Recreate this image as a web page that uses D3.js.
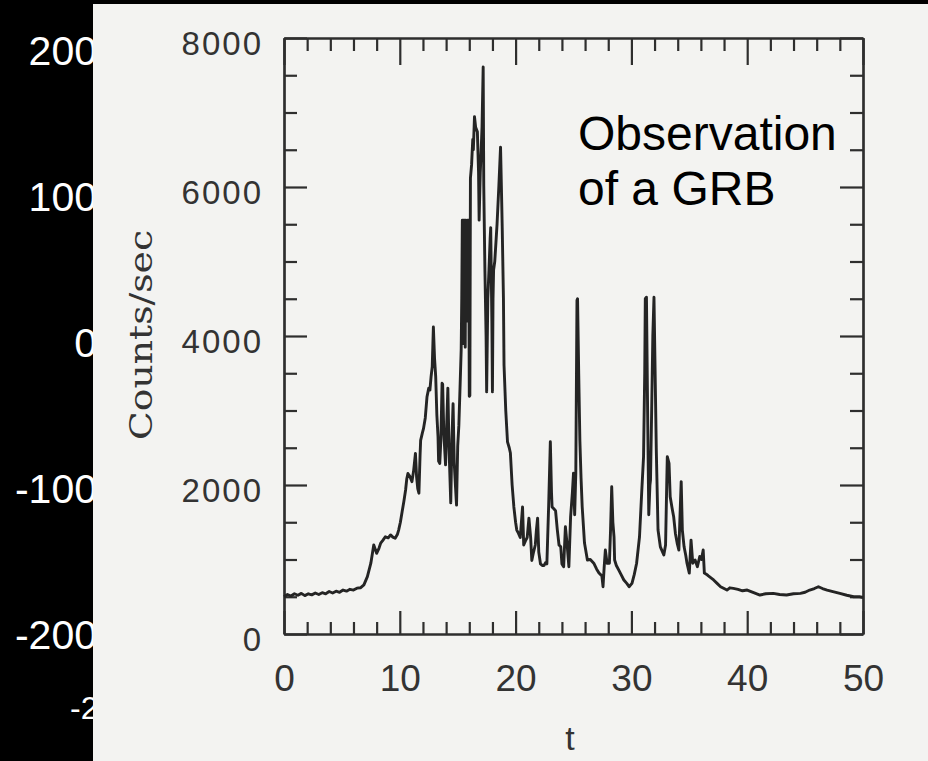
<!DOCTYPE html>
<html><head><meta charset="utf-8">
<script src="https://cdn.jsdelivr.net/npm/d3@7"></script>
<style>html,body{margin:0;padding:0;background:#000;}svg{display:block}</style>
</head><body><svg id="c" width="928" height="761"></svg>
<script>
// ---- data ----
const times = [0,0.3,0.6,0.9,1.2,1.5,1.8,2.1,2.4,2.7,3.0,3.3,3.6,3.9,4.2,4.5,4.8,5.1,5.4,5.7,6.0,6.3,6.6,6.9,7.2,7.5,7.75,8.0,8.2,8.35,8.55,8.75,9.0,9.2,9.4,9.6,9.8,9.9,10.05,10.2,10.35,10.5,10.6,10.7,10.85,11.05,11.2,11.35,11.45,11.55,11.65,11.75,11.8,11.95,12.05,12.2,12.35,12.5,12.6,12.7,12.8,12.9,13.0,13.1,13.2,13.3,13.35,13.45,13.55,13.65,13.7,13.8,13.95,14.05,14.15,14.25,14.4,14.5,14.6,14.7,14.8,14.9,15.0,15.1,15.2,15.3,15.35,15.4,15.45,15.5,15.55,15.6,15.65,15.7,15.8,15.85,15.9,15.95,16.0,16.05,16.1,16.2,16.3,16.35,16.45,16.55,16.7,16.8,16.85,16.95,17.0,17.1,17.2,17.25,17.35,17.45,17.5,17.6,17.7,17.8,17.85,17.95,18.0,18.05,18.1,18.2,18.3,18.4,18.55,18.7,18.8,18.85,18.95,19.0,19.15,19.3,19.45,19.55,19.7,19.85,20.0,20.1,20.25,20.4,20.5,20.6,20.7,20.85,21.0,21.15,21.3,21.4,21.55,21.7,21.8,21.9,22.0,22.15,22.3,22.45,22.6,22.7,22.85,23.0,23.1,23.15,23.3,23.45,23.6,23.75,23.9,24.0,24.15,24.3,24.45,24.6,24.75,24.9,25.0,25.1,25.2,25.3,25.35,25.45,25.55,25.65,25.75,25.95,26.2,26.45,26.75,27.0,27.2,27.45,27.55,27.65,27.75,27.9,28.1,28.2,28.3,28.4,28.5,28.55,28.7,28.9,29.1,29.35,29.6,29.8,30.05,30.25,30.45,30.7,30.9,31.05,31.15,31.2,31.3,31.4,31.5,31.6,31.65,31.75,31.85,31.95,32.05,32.15,32.3,32.5,32.8,32.95,33.05,33.1,33.25,33.35,33.5,33.65,33.8,33.95,34.1,34.2,34.3,34.4,34.55,34.7,34.8,35.0,35.15,35.3,35.5,35.7,35.9,36.05,36.2,36.3,36.5,36.65,36.9,37.1,37.4,37.7,38.0,38.25,38.5,38.8,39.2,39.6,40.0,40.5,41.1,41.6,42.25,42.8,43.4,44.0,44.6,45.0,45.4,45.8,46.15,46.5,46.9,47.4,48.0,48.6,49.2,49.7,50.0];
const counts = [500,530,510,540,520,545,515,540,525,550,530,555,540,570,550,575,560,590,575,600,590,615,620,660,770,950,1195,1083,1150,1220,1260,1305,1290,1330,1300,1285,1340,1395,1500,1640,1780,1933,2080,2155,2120,2045,2200,2425,2110,1950,1890,2400,2600,2700,2760,2900,3185,3300,3275,3450,3590,4120,3700,3455,2940,2650,2320,2290,2620,3365,3355,2700,2270,2800,3300,2500,1760,2600,3090,2300,2000,1730,2520,2800,3300,3810,4500,5555,3900,5555,4000,5555,3850,5555,4200,5555,4800,5555,3190,3200,6120,6300,6637,6500,6945,6800,6740,6200,5555,6200,6390,6800,7610,6025,4885,4000,3250,4500,4885,5300,5455,4200,3250,4500,4885,5000,5250,5506,6000,6535,5800,5410,4500,3610,3000,2580,2500,2430,2000,1705,1500,1395,1350,1295,1500,1705,1195,1250,1295,1555,1295,987,1100,1195,1400,1555,1100,940,920,920,960,940,1700,2580,1900,1705,1680,1655,1400,1195,1170,940,903,1440,1200,903,1574,1890,2160,1600,2160,4480,4500,3500,2600,2100,1710,1220,993,1000,950,870,818,780,635,900,1127,950,950,1400,1977,1500,1300,993,920,860,800,725,680,635,680,800,950,1305,1933,2380,3500,4500,4520,3000,1600,2000,2065,3000,4000,4520,3500,2470,1395,1170,1060,1195,2000,2380,2290,1842,1700,1574,1350,1220,1127,1600,2045,1395,1170,1050,950,818,1260,950,993,903,1040,1000,1127,818,800,780,750,725,680,635,610,590,620,613,600,580,590,560,523,540,545,530,523,540,545,560,590,610,635,610,590,570,545,520,500,500,490];
const xTicksMajor = [0,10,20,30,40,50];
const xTicksMinor = [2,4,6,8,12,14,16,18,22,24,26,28,32,34,36,38,42,44,46,48];
const yTicksMajor = [0,2000,4000,6000,8000];
const yTicksMinor = [500,1000,1500,2500,3000,3500,4500,5000,5500,6500,7000,7500];
const bgLabelValues = [200,100,0,-100,-200];
const bgLabels = ["200","100","0","-100","-200"];
const titleLines = ["Observation","of a GRB"];
const yTitle = "Counts/sec";
const xTitle = "t";

// ---- drawing ----
const svg = d3.select("#c");
const W = 928, H = 761;
svg.append("rect").attr("width", W).attr("height", H).attr("fill", "#000");

// background slide labels (partially hidden by the pasted figure)
const bgY = d3.scaleLinear().domain([200,-200]).range([50,634]);
svg.append("g").selectAll("text").data(bgLabelValues).join("text")
  .attr("x", 97).attr("y", d => bgY(d)).attr("dy","0.36em")
  .attr("text-anchor","end").attr("fill","#fff")
  .style("font-family","'Liberation Sans', Arial, sans-serif").style("font-size","41px")
  .text((d,i) => bgLabels[i]);
svg.append("text").attr("x",70).attr("y",719).attr("fill","#fff")
  .style("font-family","'Liberation Sans', Arial, sans-serif").style("font-size","32px").text("-2");

// scanned paper panel
svg.append("rect").attr("x",93).attr("y",4).attr("width",W-93).attr("height",H-4).attr("fill","#f3f3f1");

const x = d3.scaleLinear().domain([0,50]).range([284,863]);
const y = d3.scaleLinear().domain([0,8000]).range([634,38]);
const ink = "#2e2e2e";
const labFont = "'Liberation Sans', Arial, Helvetica, sans-serif";

function styleAxis(g){
  g.selectAll("path.domain").attr("stroke", ink).attr("stroke-width", 2.2);
  g.selectAll(".tick line").attr("stroke", ink).attr("stroke-width", 2.2);
  g.selectAll("text").attr("fill", "#333").style("font-family", labFont);
}
// bottom
svg.append("g").attr("transform","translate(0,634)")
  .call(d3.axisBottom(x).tickValues(xTicksMinor).tickSize(-12).tickSizeOuter(0).tickFormat(""))
  .call(styleAxis);
svg.append("g").attr("transform","translate(0,634)")
  .call(d3.axisBottom(x).tickValues(xTicksMajor).tickSize(-23).tickSizeOuter(0).tickPadding(31).tickFormat(d3.format("d")))
  .call(styleAxis)
  .call(g => g.selectAll("text").style("font-size","37px"));
// top
svg.append("g").attr("transform","translate(0,38)")
  .call(d3.axisTop(x).tickValues(xTicksMinor).tickSize(-13).tickSizeOuter(0).tickFormat(""))
  .call(styleAxis);
svg.append("g").attr("transform","translate(0,38)")
  .call(d3.axisTop(x).tickValues(xTicksMajor).tickSize(-27).tickSizeOuter(0).tickFormat(""))
  .call(styleAxis);
// left
svg.append("g").attr("transform","translate(284,0)")
  .call(d3.axisLeft(y).tickValues(yTicksMinor).tickSize(-13).tickSizeOuter(0).tickFormat(""))
  .call(styleAxis);
svg.append("g").attr("transform","translate(284,0)")
  .call(d3.axisLeft(y).tickValues(yTicksMajor).tickSize(-23).tickSizeOuter(0).tickPadding(21).tickFormat(d3.format("d")))
  .call(styleAxis)
  .call(g => g.selectAll("text").attr("dy","0.5em").style("font-size","33px").style("letter-spacing","2px"));
// right
svg.append("g").attr("transform","translate(863,0)")
  .call(d3.axisRight(y).tickValues(yTicksMinor).tickSize(-13).tickSizeOuter(0).tickFormat(""))
  .call(styleAxis);
svg.append("g").attr("transform","translate(863,0)")
  .call(d3.axisRight(y).tickValues(yTicksMajor).tickSize(-23).tickSizeOuter(0).tickFormat(""))
  .call(styleAxis);

// light curve
const series = times.map((t,i) => ({t, c: counts[i]}));
svg.append("path").datum(series)
  .attr("fill","none").attr("stroke","#242424").attr("stroke-width",2.9).attr("stroke-linejoin","round")
  .attr("d", d3.line().x(d => x(d.t)).y(d => y(d.c)));

// axis titles
svg.append("text").attr("transform","translate(152,335) rotate(-90)")
  .attr("text-anchor","middle").attr("fill","#333")
  .attr("textLength",210).attr("lengthAdjust","spacingAndGlyphs")
  .style("font-family","'DejaVu Serif', serif").style("font-size","32px").text(yTitle);
svg.append("text").attr("x",570).attr("y",750).attr("text-anchor","middle").attr("fill","#333")
  .style("font-family",labFont).style("font-size","34px").text(xTitle);

// annotation
svg.append("g").selectAll("text").data(titleLines).join("text")
  .attr("x",578).attr("y",(d,i) => 150 + i*55).attr("fill","#000")
  .style("font-family",labFont).style("font-size","48px").text(d => d);
</script>
</body></html>
